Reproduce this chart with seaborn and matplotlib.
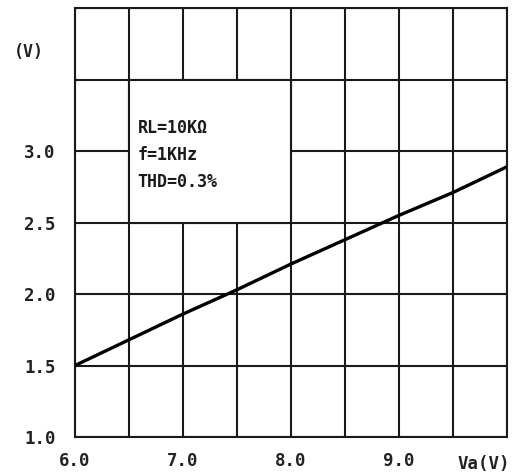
import matplotlib
matplotlib.use("Agg")
import matplotlib.pyplot as plt
import matplotlib.patches as patches
import seaborn as sns
import pandas as pd

# output voltage vs supply voltage
va = [6.0, 7.0, 7.5, 8.0, 8.5, 9.0, 9.5, 10.0]
vout = [1.5, 1.86, 2.03, 2.21, 2.38, 2.55, 2.71, 2.89]

x_ticks = [6.0, 7.0, 8.0, 9.0]
x_labels = ["6.0", "7.0", "8.0", "9.0"]
y_ticks = [1.0, 1.5, 2.0, 2.5, 3.0]
y_labels = ["1.0", "1.5", "2.0", "2.5", "3.0"]
x_grid = [6.0, 6.5, 7.0, 7.5, 8.0, 8.5, 9.0, 9.5, 10.0]
y_grid = [1.0, 1.5, 2.0, 2.5, 3.0, 3.5, 4.0]
notes = ["RL=10KΩ", "f=1KHz", "THD=0.3%"]

sns.set_style("white")
plt.rcParams["font.family"] = ["DejaVu Sans Mono", "DejaVu Sans"]

df = pd.DataFrame({"va": va, "vout": vout})

fig = plt.figure(figsize=(5.2, 4.73), dpi=100)
ax = fig.add_axes([0.1442, 0.0761, 0.8308, 0.9069])

grid_col = "#1a1a1a"
for gx in x_grid:
    ax.axvline(gx, color=grid_col, linewidth=1.5, zorder=0.5)
for gy in y_grid:
    ax.axhline(gy, color=grid_col, linewidth=1.5, zorder=0.5)

# white note box hides the grid behind it
box = patches.Rectangle((6.5, 2.5), 1.5, 1.0, facecolor="white",
                        edgecolor=grid_col, linewidth=1.5, zorder=1)
ax.add_patch(box)

sns.lineplot(data=df, x="va", y="vout", color="black", linewidth=2.4,
             ax=ax, zorder=3)

for i, t in enumerate(notes):
    ax.text(6.58, 3.16 - i * 0.19, t, fontsize=12, fontweight="bold",
            color="#1a1a1a", ha="left", va="center", zorder=4)

ax.set_xlim(6.0, 10.0)
ax.set_ylim(1.0, 4.0)
ax.set_xticks(x_ticks)
ax.set_xticklabels(x_labels)
ax.set_yticks(y_ticks)
ax.set_yticklabels(y_labels)
ax.tick_params(which="both", length=0)
ax.tick_params(axis="y", pad=14, labelsize=12.5)
ax.tick_params(axis="x", pad=11, labelsize=12.5)
for lab in ax.get_xticklabels() + ax.get_yticklabels():
    lab.set_fontweight("bold")
    lab.set_color("#222")
ax.set_xlabel("")
ax.set_ylabel("")
ax.text(1.008, -0.062, "Va(V)", transform=ax.transAxes, ha="right",
        va="center", fontsize=12.5, fontweight="bold", color="#222")
fig.text(0.055, 0.89, "(V)", ha="center", va="center", fontsize=12,
         fontweight="bold", color="#222")

for s in ax.spines.values():
    s.set_visible(True)
    s.set_color(grid_col)
    s.set_linewidth(1.5)

fig.savefig("out.png", dpi=100, facecolor="white")
